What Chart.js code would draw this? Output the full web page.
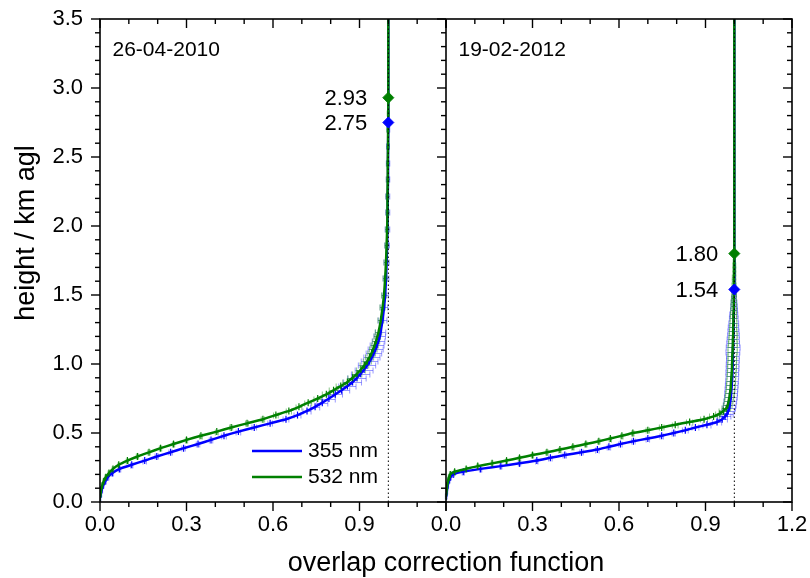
<!DOCTYPE html>
<html>
<head>
<meta charset="utf-8">
<script src="https://cdn.jsdelivr.net/npm/chart.js@4.4.1/dist/chart.umd.min.js"></script>
<style>
  html, body { margin: 0; padding: 0; background: #fff; }
</style>
</head>
<body>
<canvas id="chart" width="810" height="578"></canvas>
<script>
// 26-04-2010 (left panel), heights in km agl
const leftHeights = [0.03, 0.06, 0.09, 0.12, 0.15, 0.18, 0.21, 0.24, 0.27, 0.30, 0.33, 0.36, 0.39, 0.42, 0.45, 0.48, 0.51, 0.54, 0.57,
  0.60, 0.63, 0.66, 0.69, 0.72, 0.75, 0.78, 0.81, 0.84, 0.87, 0.90, 0.93, 0.96, 0.99, 1.02, 1.05, 1.08, 1.11, 1.14, 1.17, 1.20, 1.23,
  1.32, 1.41, 1.50, 1.62, 1.74, 1.86, 1.98, 2.10, 2.22, 2.34, 2.46, 2.58, 2.70, 2.82]
const left355 = [0.000, 0.003, 0.006, 0.011, 0.018, 0.027, 0.043, 0.068, 0.110, 0.155, 0.197, 0.245, 0.290, 0.340, 0.385, 0.430, 0.480, 0.535, 0.590,
  0.645, 0.685, 0.718, 0.746, 0.771, 0.794, 0.816, 0.838, 0.858, 0.876, 0.891, 0.904, 0.916, 0.926, 0.935, 0.943, 0.950, 0.956, 0.961, 0.966, 0.970, 0.973,
  0.980, 0.985, 0.989, 0.992, 0.994, 0.996, 0.997, 0.998, 0.998, 0.999, 0.999, 0.999, 1.000, null]
const left355Err = [0.003, 0.003, 0.003, 0.003, 0.004, 0.004, 0.004, 0.004, 0.004, 0.006, 0.006, 0.006, 0.006, 0.006, 0.006, 0.008, 0.008, 0.008, 0.008,
  0.010, 0.012, 0.014, 0.016, 0.019, 0.022, 0.025, 0.028, 0.030, 0.031, 0.032, 0.032, 0.031, 0.030, 0.029, 0.028, 0.027, 0.026, 0.024, 0.022, 0.020, 0.018,
  0.015, 0.013, 0.011, 0.010, 0.009, 0.008, 0.008, 0.007, 0.007, 0.006, 0.006, 0.005, 0.005, null]
const left532 = [0.000, 0.002, 0.004, 0.008, 0.013, 0.020, 0.031, 0.045, 0.065, 0.095, 0.130, 0.170, 0.210, 0.255, 0.300, 0.350, 0.405, 0.455, 0.510,
  0.565, 0.610, 0.655, 0.690, 0.722, 0.755, 0.785, 0.810, 0.835, 0.858, 0.876, 0.892, 0.905, 0.917, 0.927, 0.935, 0.942, 0.948, 0.953, 0.958, 0.962, 0.966,
  0.974, 0.980, 0.985, 0.989, 0.992, 0.994, 0.996, 0.997, 0.997, 0.998, 0.998, 0.999, 0.999, 1.000]
const left532Err = [0.002, 0.002, 0.002, 0.002, 0.003, 0.003, 0.003, 0.003, 0.003, 0.004, 0.004, 0.004, 0.004, 0.004, 0.004, 0.005, 0.005, 0.005, 0.005,
  0.006, 0.008, 0.009, 0.010, 0.012, 0.013, 0.014, 0.015, 0.016, 0.016, 0.016, 0.016, 0.015, 0.015, 0.014, 0.014, 0.013, 0.013, 0.012, 0.012, 0.011, 0.011,
  0.010, 0.009, 0.008, 0.007, 0.007, 0.006, 0.006, 0.005, 0.005, 0.005, 0.004, 0.004, 0.004, 0.004]

// 19-02-2012 (right panel)
const rightHeights = [0.04, 0.08, 0.12, 0.16, 0.18, 0.20, 0.22, 0.24, 0.26, 0.28, 0.30, 0.32, 0.34, 0.36, 0.38, 0.40, 0.42, 0.44, 0.46, 0.48, 0.50,
  0.52, 0.54, 0.56, 0.58, 0.60, 0.62, 0.64, 0.66, 0.68, 0.70,
  0.73, 0.76, 0.79, 0.82, 0.85, 0.88, 0.91, 0.94, 0.97, 1.00, 1.03, 1.06, 1.09, 1.12, 1.15, 1.18, 1.21, 1.24, 1.27, 1.30, 1.33, 1.36, 1.39, 1.42,
  1.45, 1.48, 1.51, 1.54, 1.57, 1.60, 1.63, 1.66, 1.69, 1.72, 1.75]
const right355 = [0.001, 0.003, 0.006, 0.011, 0.015, 0.025, 0.060, 0.120, 0.190, 0.255, 0.315, 0.362, 0.412, 0.470, 0.525, 0.565, 0.605, 0.650, 0.700, 0.748, 0.790,
  0.830, 0.865, 0.905, 0.940, 0.958, 0.968, 0.975, 0.979, 0.982, 0.984,
  0.986, 0.988, 0.989, 0.990, 0.991, 0.992, 0.993, 0.993, 0.994, 0.994, 0.995, 0.995, 0.995, 0.996, 0.996, 0.996, 0.997, 0.997, 0.997, 0.998, 0.998, 0.998, 0.999, 0.999,
  0.999, 0.999, 1.000, null, null, null, null, null, null, null, null]
const right355Err = [0.003, 0.003, 0.003, 0.003, 0.004, 0.004, 0.004, 0.004, 0.004, 0.004, 0.004, 0.006, 0.006, 0.006, 0.006, 0.006, 0.006, 0.006, 0.006, 0.006, 0.006,
  0.010, 0.012, 0.014, 0.016, 0.018, 0.020, 0.021, 0.022, 0.022, 0.022,
  0.022, 0.022, 0.022, 0.022, 0.022, 0.022, 0.022, 0.022, 0.022, 0.022, 0.022, 0.022, 0.024, 0.024, 0.022, 0.021, 0.020, 0.019, 0.018, 0.017, 0.015, 0.014, 0.012, 0.011,
  0.010, 0.008, 0.007, null, null, null, null, null, null, null, null]
const right532 = [0.000, 0.002, 0.004, 0.008, 0.011, 0.015, 0.030, 0.070, 0.110, 0.160, 0.210, 0.255, 0.300, 0.350, 0.395, 0.440, 0.485, 0.530, 0.570, 0.610, 0.648,
  0.700, 0.748, 0.795, 0.845, 0.895, 0.928, 0.950, 0.962, 0.972, 0.977,
  0.980, 0.983, 0.985, 0.987, 0.988, 0.989, 0.990, 0.991, 0.992, 0.992, 0.993, 0.993, 0.994, 0.994, 0.995, 0.995, 0.996, 0.996, 0.996, 0.997, 0.997, 0.997, 0.998, 0.998,
  0.998, 0.998, 0.999, 0.999, 0.999, 0.999, 0.999, 1.000, 1.000, 1.000, 1.000]
const right532Err = [0.002, 0.002, 0.002, 0.002, 0.003, 0.003, 0.003, 0.003, 0.003, 0.003, 0.003, 0.004, 0.004, 0.004, 0.004, 0.004, 0.004, 0.004, 0.004, 0.004, 0.004,
  0.006, 0.008, 0.010, 0.011, 0.012, 0.014, 0.015, 0.015, 0.015, 0.015,
  0.015, 0.015, 0.015, 0.015, 0.015, 0.015, 0.015, 0.015, 0.015, 0.015, 0.015, 0.015, 0.016, 0.016, 0.015, 0.014, 0.014, 0.013, 0.012, 0.012, 0.011, 0.010, 0.010, 0.009,
  0.009, 0.008, 0.008, 0.007, 0.007, 0.006, 0.006, 0.005, 0.005, 0.005, 0.004]

// full-overlap heights (diamonds)
const fullOverlapLeft = [2.75, 2.93]   // 355, 532 nm
const fullOverlapRight = [1.54, 1.80]
const panelDates = ['26-04-2010', '19-02-2012']
const wavelengths = ['355 nm', '532 nm']

const xTicks = [0, 0.3, 0.6, 0.9, 1.2]
const yTicks = [0, 0.5, 1.0, 1.5, 2.0, 2.5, 3.0, 3.5]

const BLUE = '#0000ff'
const GREEN = '#008000'
const BLUE_ERR = 'rgba(70, 70, 255, 0.55)'
const GREEN_ERR = 'rgba(40, 150, 40, 0.55)'
const FONT = "'Liberation Sans', Arial, sans-serif"

Chart.defaults.font.family = FONT
Chart.defaults.color = '#000'

function profile(heights, values, fullHeight) {
  const pts = []
  heights.forEach((h, i) => {
    if (values[i] != null) pts.push({ x: values[i], y: h })
  })
  pts.push({ x: 1, y: fullHeight }, { x: 1, y: 3.5 })
  return pts
}

function series(label, axis, heights, values, errs, fullHeight, color, errColor, order) {
  const data = profile(heights, values, fullHeight)
  const n = data.length - 2
  return {
    label,
    xAxisID: axis,
    yAxisID: "y",
    data,
    showLine: true,
    borderColor: color,
    borderWidth: 2.5,
    tension: 0.15,
    pointStyle: "line",
    rotation: 90,
    pointRadius: ctx => (ctx.dataIndex < n ? 3.5 : 0),
    pointHoverRadius: 0,
    pointBorderColor: color,
    pointBorderWidth: 1.2,
    xErr: errs.filter(e => e != null),
    errColor,
    order,
  }
}

function refLine(axis) {
  return {
    xAxisID: axis,
    yAxisID: "y",
    data: [{ x: 1, y: 0 }, { x: 1, y: 3.5 }],
    showLine: true,
    borderColor: "#000",
    borderWidth: 1,
    borderDash: [1.5, 2.5],
    pointRadius: 0,
    order: 1,
  }
}

function diamonds(axis, heights) {
  return {
    xAxisID: axis,
    yAxisID: "y",
    data: heights.map(h => ({ x: 1, y: h })),
    pointStyle: "rectRot",
    pointRadius: 5.5,
    pointBackgroundColor: [BLUE, GREEN],
    pointBorderColor: [BLUE, GREEN],
    showLine: false,
    isDiamond: true,
    order: 0,
  }
}

const datasets = [
  series(wavelengths[0], "xL", leftHeights, left355, left355Err, fullOverlapLeft[0], BLUE, BLUE_ERR, 3),
  series(wavelengths[1], "xL", leftHeights, left532, left532Err, fullOverlapLeft[1], GREEN, GREEN_ERR, 2),
  series(wavelengths[0], "xR", rightHeights, right355, right355Err, fullOverlapRight[0], BLUE, BLUE_ERR, 3),
  series(wavelengths[1], "xR", rightHeights, right532, right532Err, fullOverlapRight[1], GREEN, GREEN_ERR, 2),
  refLine("xL"),
  refLine("xR"),
  diamonds("xL", fullOverlapLeft),
  diamonds("xR", fullOverlapRight),
]

// horizontal error bars with caps, under the curves
const errorBars = {
  id: "errorBars",
  beforeDatasetsDraw(chart) {
    const { ctx, chartArea: a } = chart
    ctx.save()
    ctx.beginPath()
    ctx.rect(a.left, a.top, a.right - a.left, a.bottom - a.top)
    ctx.clip()
    ctx.lineWidth = 1
    chart.data.datasets.forEach((ds, i) => {
      if (!ds.xErr) return
      const meta = chart.getDatasetMeta(i)
      ctx.strokeStyle = ds.errColor
      ds.xErr.forEach((e, j) => {
        const p = ds.data[j]
        const x0 = meta.xScale.getPixelForValue(p.x - e)
        const x1 = meta.xScale.getPixelForValue(p.x + e)
        const y = Math.round(meta.yScale.getPixelForValue(p.y)) + 0.5
        ctx.beginPath()
        ctx.moveTo(x0, y)
        ctx.lineTo(x1, y)
        ctx.moveTo(x0, y - 3)
        ctx.lineTo(x0, y + 3)
        ctx.moveTo(x1, y - 3)
        ctx.lineTo(x1, y + 3)
        ctx.stroke()
      })
    })
    ctx.restore()
  },
}

// frame around both panels, with minor/major tick marks, plus the texts
const frame = {
  id: "frame",
  afterDatasetsDraw(chart) {
    const { ctx, chartArea: a, scales } = chart
    const mid = scales.xL.right
    const seg = (x0, y0, x1, y1) => {
      ctx.beginPath()
      ctx.moveTo(x0, y0)
      ctx.lineTo(x1, y1)
      ctx.stroke()
    }
    ctx.save()
    ctx.strokeStyle = "#000"
    ctx.lineWidth = 1.6
    ctx.strokeRect(a.left, a.top, a.right - a.left, a.bottom - a.top)
    seg(mid, a.top, mid, a.bottom)
    ctx.lineWidth = 1.4
    for (const s of [scales.xL, scales.xR]) {
      for (let k = 0; k <= 12; k++) {
        const px = s.getPixelForValue(k / 10)
        const len = k % 3 === 0 ? 9 : 5
        seg(px, a.bottom, px, a.bottom + len)
        seg(px, a.top, px, a.top + len)
      }
    }
    for (let k = 0; k <= 35; k++) {
      const py = scales.y.getPixelForValue(k / 10)
      const len = k % 5 === 0 ? 9 : 5
      seg(a.left - len, py, a.left, py)
      seg(mid - len, py, mid, py)
      seg(a.right - len, py, a.right, py)
    }
    ctx.restore()
  },
  afterDraw(chart) {
    const { ctx, chartArea: a, scales } = chart
    ctx.save()
    ctx.fillStyle = "#000"

    // axis titles
    ctx.font = `27px ${FONT}`
    ctx.textAlign = "center"
    ctx.textBaseline = "alphabetic"
    ctx.fillText("overlap correction function", (a.left + a.right) / 2, 571)
    ctx.save()
    ctx.translate(33.5, 233)
    ctx.rotate(-Math.PI / 2)
    ctx.fillText("height / km agl", 0, 0)
    ctx.restore()

    // panel dates
    ctx.font = `21px ${FONT}`
    ctx.textAlign = "left"
    ctx.textBaseline = "middle"
    ctx.fillText(panelDates[0], scales.xL.left + 12.5, 50)
    ctx.fillText(panelDates[1], scales.xR.left + 12.5, 50)

    // full-overlap height labels next to the diamonds
    ctx.font = `22px ${FONT}`
    ctx.textAlign = "right"
    chart.data.datasets.forEach((ds, i) => {
      if (!ds.isDiamond) return
      const meta = chart.getDatasetMeta(i)
      const gap = ds.xAxisID === "xL" ? 21 : 16
      meta.data.forEach((pt, j) => {
        ctx.fillText(ds.data[j].y.toFixed(2), pt.x - gap, pt.y + 1)
      })
    })

    // legend inside the left panel
    ctx.font = `21px ${FONT}`
    ctx.textAlign = "left"
    const legendItems = chart.data.datasets.slice(0, 2)
    legendItems.forEach((ds, j) => {
      const y = 451 + j * 26
      const x0 = scales.xL.left + 152
      ctx.strokeStyle = ds.borderColor
      ctx.lineWidth = 2.5
      ctx.beginPath()
      ctx.moveTo(x0, y)
      ctx.lineTo(x0 + 50, y)
      ctx.stroke()
      ctx.fillText(ds.label, x0 + 56, y)
    })
    ctx.restore()
  },
}

const tickFont = { size: 22, family: FONT }

function xAxis(hideLast) {
  return {
    type: "linear",
    position: "bottom",
    stack: "panels",
    stackWeight: 1,
    min: 0,
    max: 1.2,
    afterBuildTicks: s => { s.ticks = xTicks.map(v => ({ value: v })) },
    ticks: {
      font: tickFont,
      padding: 10,
      autoSkip: false,
      maxRotation: 0,
      callback: v => (hideLast && v > 1.1 ? "" : v.toFixed(1)),
    },
    grid: { display: false, drawTicks: false },
    border: { display: false },
    afterFit: s => {
      s.height = 76
      s.paddingLeft = 0
      s.paddingRight = 0
    },
  }
}

new Chart(document.getElementById("chart"), {
  type: "scatter",
  data: { datasets },
  options: {
    responsive: false,
    animation: false,
    layout: { autoPadding: false, padding: { left: 0, right: 18, top: 19, bottom: 0 } },
    scales: {
      xL: xAxis(true),
      xR: xAxis(false),
      y: {
        type: "linear",
        position: "left",
        min: 0,
        max: 3.5,
        afterBuildTicks: s => { s.ticks = yTicks.map(v => ({ value: v })) },
        ticks: { font: tickFont, padding: 17, callback: v => v.toFixed(1) },
        grid: { display: false, drawTicks: false },
        border: { display: false },
        afterFit: s => {
          s.width = 100
          s.paddingTop = 0
          s.paddingBottom = 0
        },
      },
    },
    plugins: {
      legend: { display: false },
      tooltip: { enabled: false },
    },
  },
  plugins: [errorBars, frame],
})
</script>
</body>
</html>
